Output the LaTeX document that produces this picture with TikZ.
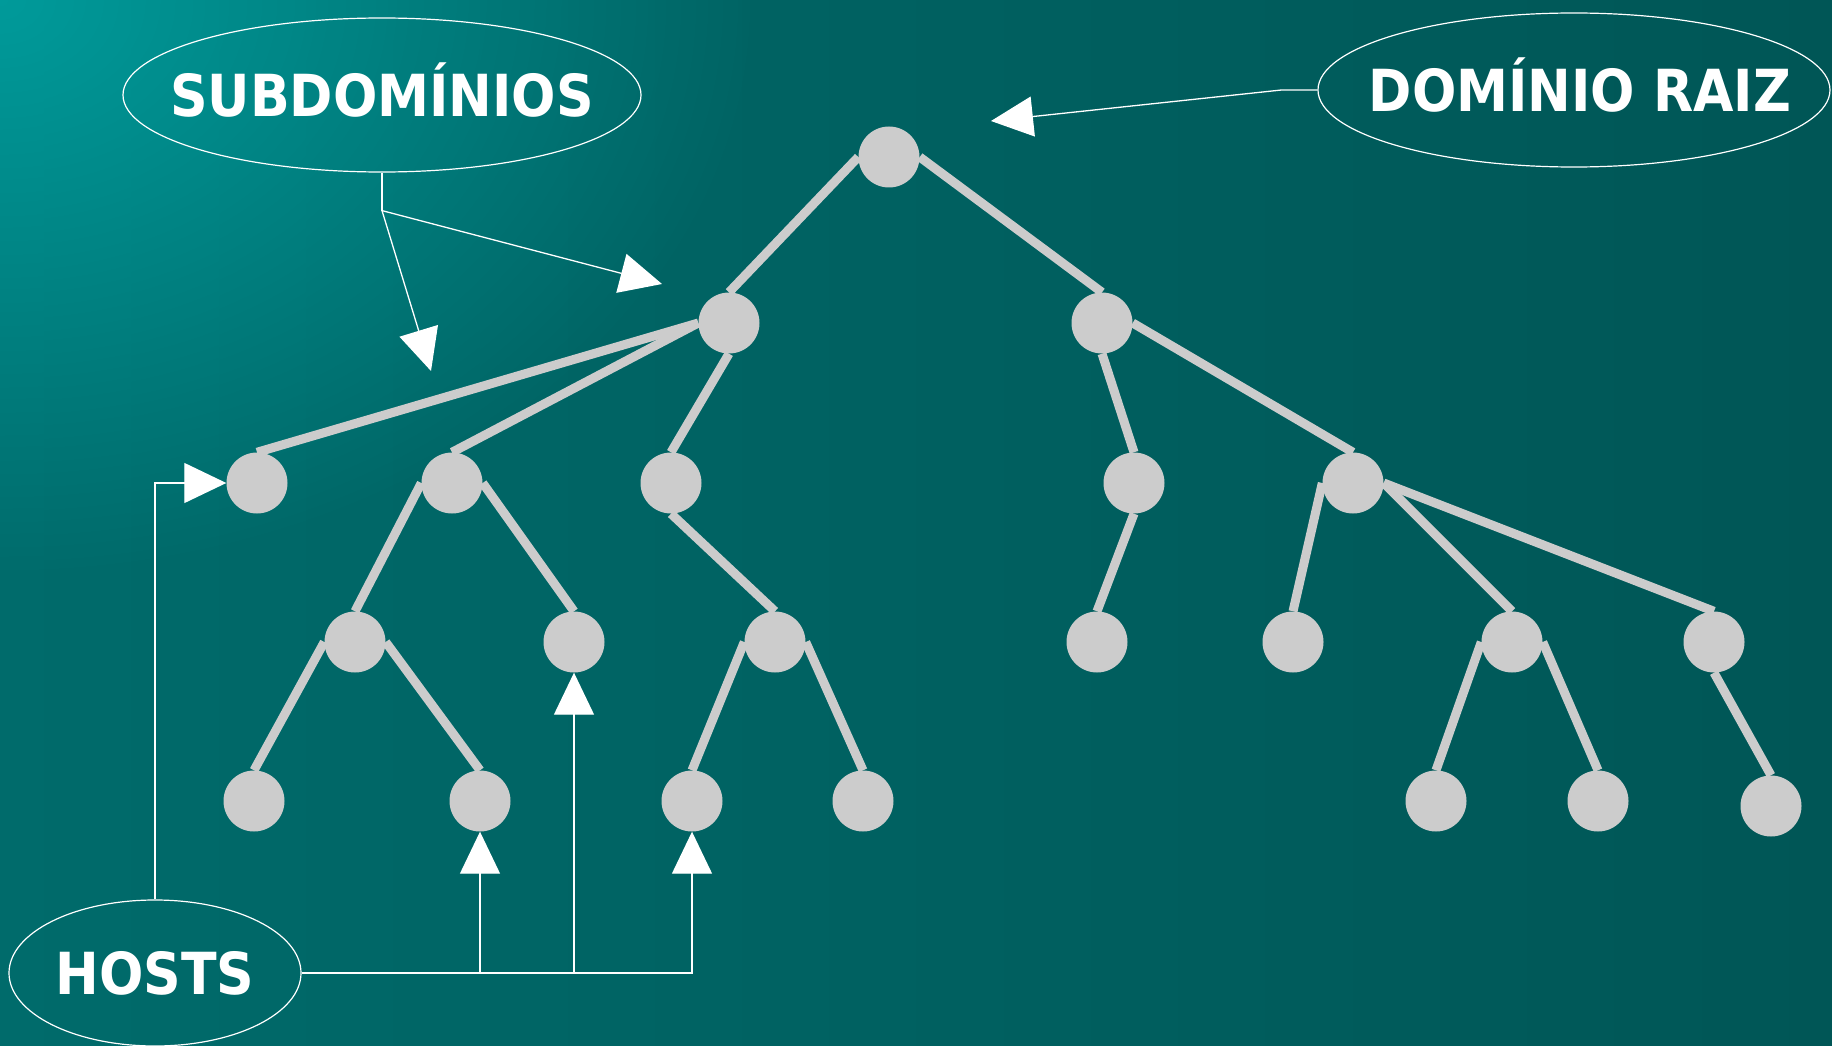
\documentclass[tikz,border=0pt]{standalone}
\usepackage{fontspec}
\setmainfont{DejaVu Sans}
\newfontfamily\tagfont{DejaVu Sans Condensed}
\usetikzlibrary{shapes.geometric, arrows.meta, fadings}

\definecolor{bgleft}{HTML}{006B6B}
\definecolor{bgright}{HTML}{005656}
\definecolor{bgglow}{HTML}{00A3A3}
\definecolor{knotgray}{HTML}{CCCCCC}

\tikzfading[name=glowfade, inner color=transparent!0, outer color=transparent!100]

\begin{document}
\begin{tikzpicture}[x=1pt, y=-1pt]
\tikzset{ knot/.style={circle, fill=knotgray, minimum size=61pt, inner sep=0pt},
  branch/.style={draw=knotgray, line width=9pt},
  tag/.style={ellipse, draw=white, line width=1.2pt, inner sep=0pt},
  tagtext/.style={text=white, font={\tagfont\fontsize{58}{64}\selectfont\bfseries}},
  wire/.style={draw=white, line width=1.3pt},
  pointer/.style={wire, -{Triangle[length=42pt, width=40pt]}}
}

% background
\useasboundingbox (0,0) rectangle (1832,1046);
\begin{scope}
  \clip (0,0) rectangle (1832,1046);
  \fill[left color=bgleft, right color=bgright] (0,0) rectangle (1832,1046);
  \fill[bgglow, path fading=glowfade, opacity=0.85] (0,0) ellipse (760 and 580);
\end{scope}

% tree
\foreach \n/\x/\y in {r/889/157, a/729/323, b/1102/323,
    a1/257/483, a2/452/483, a3/671/483, b1/1134/483, b2/1353/483,
    a21/355/642, a22/574/642, a31/775/642, b11/1097/642, b21/1293/642, b22/1512/642, b23/1714/642,
    a211/254/801, a212/480/801, a311/692/801, a312/863/801, b221/1436/801, b222/1598/801, b231/1771/806}
  \node[knot] (\n) at (\x,\y) {};

\foreach \p/\c in {r.west/a.north, r.east/b.north,
    a.west/a1.north, a.west/a2.north, a.south/a3.north, b.south/b1.north, b.east/b2.north,
    a2.west/a21.north, a2.east/a22.north, a3.south/a31.north, b1.south/b11.north,
    b2.west/b21.north, b2.east/b22.north, b2.east/b23.north,
    a21.west/a211.north, a21.east/a212.north, a31.west/a311.north, a31.east/a312.north,
    b22.west/b221.north, b22.east/b222.north, b23.south/b231.north}
  \draw[branch] (\p) -- (\c);

% labels
\node[tag, minimum width=518pt, minimum height=154pt,
  label={[tagtext, yshift=5pt]center:SUBDOMÍNIOS}] (sub) at (382,95) {};
\node[tag, minimum width=512pt, minimum height=154pt,
  label={[tagtext, xshift=6pt, yshift=5pt]center:DOMÍNIO RAIZ}] (raiz) at (1574,90) {};
\node[tag, minimum width=292pt, minimum height=146pt,
  label={[tagtext]center:HOSTS}] (hosts) at (155,973) {};

\coordinate (subtipa) at (431,371);
\coordinate (subtipb) at (662,284);
\coordinate (raiztip) at (991,121);

\draw[wire] (sub.south) -- ++(0,38) coordinate (subfork);
\draw[pointer] (subfork) -- (subtipa);
\draw[pointer] (subfork) -- (subtipb);

\draw[pointer] (raiz.west) -- ++(-36,0) -- (raiztip);

\draw[pointer] (hosts.north) |- (a1.west);
\draw[pointer] (hosts.east) -| (a212.south);
\draw[pointer] (hosts.east) -| (a22.south);
\draw[pointer] (hosts.east) -| (a311.south);

\end{tikzpicture}
\end{document}
